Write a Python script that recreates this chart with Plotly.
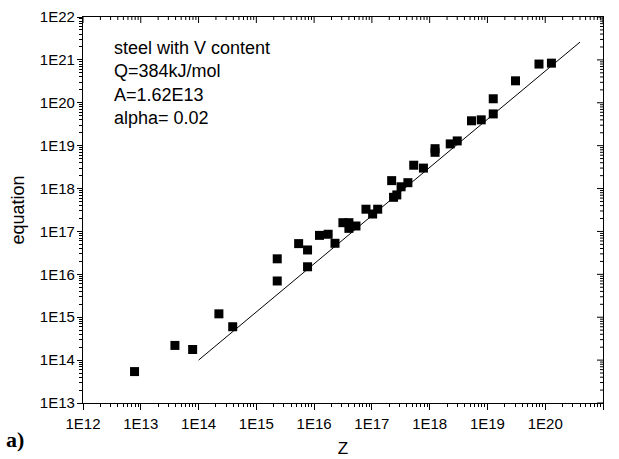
import math
import plotly.graph_objects as go

# Measured points: Zener-Hollomon parameter Z versus the model equation
z_vals = [7.8e12, 3.9e13, 7.9e13, 2.25e14, 3.9e14, 2.3e15, 2.3e15, 5.4e15, 7.7e15,
          7.7e15, 1.24e16, 1.75e16, 2.3e16, 3.15e16, 4.0e16, 4.0e16, 5.3e16, 7.9e16,
          1.03e17, 1.26e17, 2.2e17, 2.37e17, 2.7e17, 3.2e17, 4.2e17, 5.3e17, 7.8e17,
          1.24e18, 1.24e18, 2.27e18, 3.0e18, 5.3e18, 7.8e18, 1.26e19, 1.26e19,
          3.06e19, 7.8e19, 1.28e20]
eq_vals = [5.4e13, 2.2e14, 1.77e14, 1.2e15, 6.0e14, 2.3e16, 7.0e15, 5.2e16, 3.7e16,
           1.5e16, 8.1e16, 8.6e16, 5.3e16, 1.6e17, 1.6e17, 1.18e17, 1.34e17, 3.3e17,
           2.55e17, 3.3e17, 1.53e18, 6.25e17, 7.1e17, 1.1e18, 1.37e18, 3.5e18, 3.0e18,
           8.5e18, 7.0e18, 1.1e19, 1.29e19, 3.8e19, 4.0e19, 1.24e20, 5.5e19,
           3.25e20, 8.0e20, 8.4e20]

# Fitted line end points
fit_z = [1e14, 4.0e20]
fit_eq = [1e14, 2.6e21]

X_DECADES = list(range(12, 22))
Y_DECADES = list(range(13, 23))
x_major = [10.0 ** k for k in X_DECADES]
y_major = [10.0 ** k for k in Y_DECADES]
x_minor = [m * 10.0 ** k for k in X_DECADES[:-1] for m in range(2, 10)]
y_minor = [m * 10.0 ** k for k in Y_DECADES[:-1] for m in range(2, 10)]
x_all = x_major + x_minor
y_all = y_major + y_minor
x_all_text = ["1E%d" % k for k in X_DECADES] + [""] * len(x_minor)
y_all_text = ["1E%d" % k for k in Y_DECADES] + [""] * len(y_minor)

info_lines = ["steel with V content", "Q=384kJ/mol", "A=1.62E13", "alpha= 0.02"]

FONT = "Liberation Sans, Arial, sans-serif"
X_RANGE = [12, 21]
Y_RANGE = [13, 22]
MAJOR_LEN, MINOR_LEN = 6, 3

fig = go.Figure()
fig.add_trace(go.Scatter(x=fit_z, y=fit_eq, mode="lines",
                         line=dict(color="black", width=1), showlegend=False,
                         hoverinfo="skip"))
fig.add_trace(go.Scatter(x=z_vals, y=eq_vals, mode="markers",
                         marker=dict(symbol="square", size=9, color="black",
                                     line=dict(width=0)),
                         showlegend=False))
# invisible trace so that the long major-tick axes get drawn
fig.add_trace(go.Scatter(x=[1e12], y=[1e13], xaxis="x3", yaxis="y3",
                         mode="markers", marker=dict(opacity=0),
                         showlegend=False, hoverinfo="skip"))

base = dict(type="log", showgrid=False, zeroline=False, automargin=False,
            tickcolor="black", tickwidth=1)
line = dict(showline=True, linecolor="black", linewidth=1.2, mirror=True)

fig.update_layout(
    width=619, height=459,
    margin=dict(l=83, r=16, t=17, b=56),
    paper_bgcolor="white", plot_bgcolor="white",
    font=dict(family=FONT, color="black", size=15),
    # bottom / left: all ticks short, outside, labels on decades
    xaxis=dict(base, **line, range=X_RANGE, ticks="outside", ticklen=MINOR_LEN,
               tickmode="array", tickvals=x_all, ticktext=x_all_text,
               tickfont=dict(size=15), ticklabelstandoff=4,
               title=dict(text="Z", font=dict(size=17), standoff=11)),
    yaxis=dict(base, **line, range=Y_RANGE, ticks="outside", ticklen=MINOR_LEN,
               tickmode="array", tickvals=y_all, ticktext=y_all_text,
               tickfont=dict(size=15), ticklabelstandoff=1,
               title=dict(text="equation", font=dict(size=18), standoff=10)),
    # longer major ticks, bottom / left outside
    xaxis3=dict(base, range=X_RANGE, overlaying="x", side="bottom", anchor="free",
                position=0, showline=False, ticks="outside", ticklen=MAJOR_LEN,
                tickmode="array", tickvals=x_major, showticklabels=False),
    yaxis3=dict(base, range=Y_RANGE, overlaying="y", side="left", anchor="free",
                position=0, showline=False, ticks="outside", ticklen=MAJOR_LEN,
                tickmode="array", tickvals=y_major, showticklabels=False),
)

# top and right frame ticks point into the plot
tick_style = dict(type="line", line=dict(color="black", width=1), layer="above")
for v in x_all:
    frac = (math.log10(v) - X_RANGE[0]) / (X_RANGE[1] - X_RANGE[0])
    length = MAJOR_LEN if v in x_major else MINOR_LEN
    fig.add_shape(xref="x domain", yref="y domain", x0=frac, x1=frac,
                  ysizemode="pixel", yanchor=1, y0=0, y1=-length, **tick_style)
for v in y_all:
    frac = (math.log10(v) - Y_RANGE[0]) / (Y_RANGE[1] - Y_RANGE[0])
    length = MAJOR_LEN if v in y_major else MINOR_LEN
    fig.add_shape(xref="x domain", yref="y domain", y0=frac, y1=frac,
                  xsizemode="pixel", xanchor=1, x0=0, x1=-length, **tick_style)

for i, text in enumerate(info_lines):
    fig.add_annotation(x=0.055, y=0.92 - i * 0.0605, xref="paper", yref="paper",
                       xanchor="left", yanchor="middle", showarrow=False,
                       text=text, font=dict(family=FONT, size=18, color="black"))

fig.add_annotation(x=-0.152, y=-0.094, xref="paper", yref="paper", showarrow=False,
                   text="<b>a)</b>", xanchor="left", yanchor="middle",
                   font=dict(family="Liberation Serif, Times New Roman, serif",
                             size=22, color="black"))

fig.write_html("out.html")
